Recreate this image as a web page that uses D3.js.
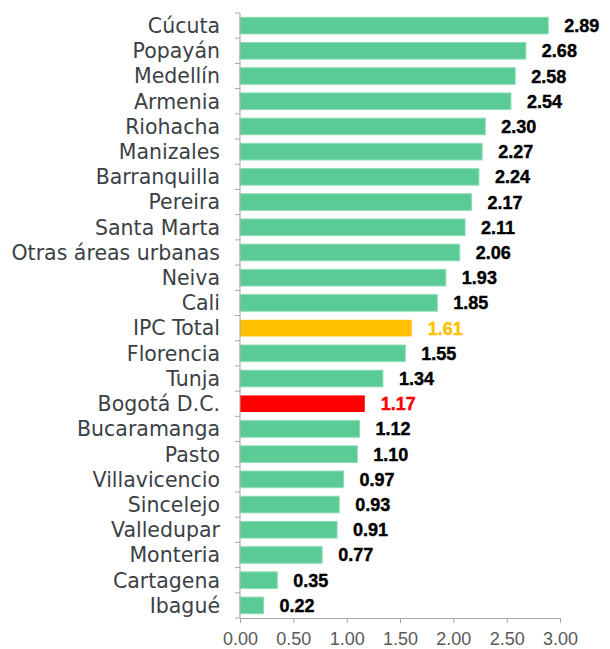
<!DOCTYPE html>
<html>
<head>
<meta charset="utf-8">
<script src="https://cdn.jsdelivr.net/npm/d3@7"></script>
<style>
  body { margin: 0; background: #fff; }
  svg text { font-family: "DejaVu Sans", sans-serif; }
</style>
</head>
<body>
<div id="chart"></div>
<script>
// Data
var ciudades = ["Cúcuta", "Popayán", "Medellín", "Armenia", "Riohacha", "Manizales",
  "Barranquilla", "Pereira", "Santa Marta", "Otras áreas urbanas", "Neiva", "Cali",
  "IPC Total", "Florencia", "Tunja", "Bogotá D.C.", "Bucaramanga", "Pasto",
  "Villavicencio", "Sincelejo", "Valledupar", "Monteria", "Cartagena", "Ibagué"];
var valores = [2.89, 2.68, 2.58, 2.54, 2.30, 2.27, 2.24, 2.17, 2.11, 2.06, 1.93, 1.85,
  1.61, 1.55, 1.34, 1.17, 1.12, 1.10, 0.97, 0.93, 0.91, 0.77, 0.35, 0.22];
var xTicks = [0, 0.5, 1, 1.5, 2, 2.5, 3];

var colores = { "IPC Total": "#FFC000", "Bogotá D.C.": "#FF0000" };
var colorTexto = { "IPC Total": "#FFC000", "Bogotá D.C.": "#FF0000" };

var width = 610, height = 649;
var margin = { top: 13, right: 50, bottom: 31, left: 240 };

var svg = d3.select("#chart").append("svg")
  .attr("width", width)
  .attr("height", height);

var x = d3.scaleLinear().domain([0, 3]).range([margin.left, width - margin.right]);
var y = d3.scaleBand().domain(ciudades)
  .range([margin.top, height - margin.bottom])
  .paddingInner(0.34).paddingOuter(0.17);

var data = ciudades.map(function(c, i) { return { ciudad: c, valor: valores[i] }; });

// bars
svg.append("g").selectAll("rect")
  .data(data)
  .enter()
  .append("rect")
  .attr("x", x(0))
  .attr("y", function(d) { return y(d.ciudad); })
  .attr("width", function(d) { return x(d.valor) - x(0); })
  .attr("height", y.bandwidth())
  .style("fill", function(d) { return colores[d.ciudad] || "#5BCB96"; })
  .style("stroke", function(d) { return colores[d.ciudad] ? "none" : "#8EDDB7"; })
  .style("stroke-width", 1);

// value labels
svg.append("g").selectAll("text")
  .data(data)
  .enter()
  .append("text")
  .attr("x", function(d) { return x(d.valor) + 16; })
  .attr("y", function(d) { return y(d.ciudad) + y.bandwidth() / 2; })
  .attr("dy", "0.36em")
  .style("font-family", "'Liberation Sans', Arial, sans-serif")
  .style("font-size", "18px")
  .style("font-weight", "bold")
  .style("fill", function(d) { return colorTexto[d.ciudad] || "#000"; })
  .style("stroke", function(d) { return colorTexto[d.ciudad] || "#000"; })
  .style("stroke-width", 0.4)
  .text(function(d) { return d.valor.toFixed(2); });

// y axis: line, ticks at band edges, labels
var step = y.step();
var edges = ciudades.map(function(c) { return y(c) - (step - y.bandwidth()) / 2; });
edges.push(edges[edges.length - 1] + step);

var yAxis = svg.append("g");
yAxis.append("line")
  .attr("x1", x(0)).attr("x2", x(0))
  .attr("y1", edges[0]).attr("y2", edges[edges.length - 1])
  .style("stroke", "#A6A6A6");
yAxis.selectAll(".tk")
  .data(edges)
  .enter()
  .append("line")
  .attr("x1", x(0) - 5).attr("x2", x(0))
  .attr("y1", function(d) { return d; }).attr("y2", function(d) { return d; })
  .style("stroke", "#A6A6A6");
yAxis.selectAll("text")
  .data(ciudades)
  .enter()
  .append("text")
  .attr("x", x(0) - 20)
  .attr("y", function(d) { return y(d) + y.bandwidth() / 2; })
  .attr("dy", "0.36em")
  .attr("text-anchor", "end")
  .style("font-size", "20.5px")
  .style("fill", "#3B3F46")
  .text(function(d) { return d; });

// x axis
var xAxis = svg.append("g")
  .attr("transform", "translate(0," + edges[edges.length - 1] + ")")
  .call(d3.axisBottom(x).tickValues(xTicks).tickFormat(d3.format(".2f"))
    .tickSizeInner(5).tickSizeOuter(0).tickPadding(9));
xAxis.select(".domain").style("stroke", "#A6A6A6");
xAxis.selectAll(".tick line").style("stroke", "#A6A6A6");
xAxis.selectAll(".tick text")
  .style("font-size", "18px")
  .style("fill", "#595959")
  .style("font-family", "'Liberation Sans', Arial, sans-serif");
</script>
</body>
</html>
